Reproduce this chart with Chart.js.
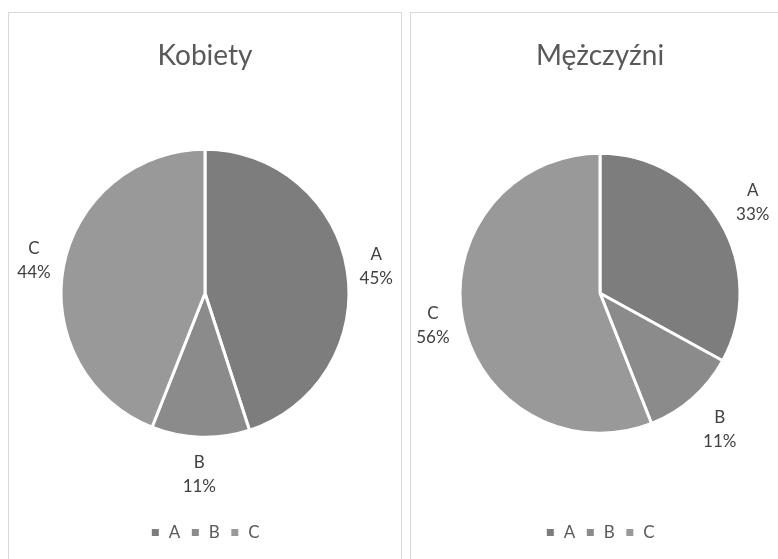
<!DOCTYPE html>
<html>
<head>
<meta charset="utf-8">
<script src="https://cdn.jsdelivr.net/npm/chart.js@4.4.0/dist/chart.umd.min.js"></script>
<style>
    html, body { margin: 0; padding: 0; background: #fff; overflow: hidden; }
    body { width: 778px; height: 559px; position: relative; }
    .panel { position: absolute; top: 12px; height: 560px; border: 1px solid #d9d9d9; box-sizing: border-box; background: #fff; }
    #leftPanel { left: 8px; width: 394px; }
    #rightPanel { left: 410px; width: 394px; }
    .panel canvas { position: absolute; left: 0; top: 0; }
</style>
</head>
<body>
<div class="panel" id="leftPanel"><canvas id="womenChart" width="392" height="547"></canvas></div>
<div class="panel" id="rightPanel"><canvas id="menChart" width="392" height="547"></canvas></div>
<script>
// Data
const categories = ['A', 'B', 'C'];
const womenValues = [45, 11, 44];
const menValues = [33, 11, 56];
const sliceColors = ['#7d7d7d', '#8b8b8b', '#999999'];

// Draws "A / 45%" labels just outside each slice (box-aware offset, like Excel)
const outsideLabels = {
    id: 'outsideLabels',
    afterDatasetsDraw(chart) {
        const ctx = chart.ctx;
        const meta = chart.getDatasetMeta(0);
        const values = chart.data.datasets[0].data;
        const total = values.reduce((a, b) => a + b, 0);
        const halfW = 17, halfH = 29, gap = 8;
        ctx.save();
        ctx.fillStyle = '#404040';
        ctx.font = '17px Lato';
        ctx.textAlign = 'center';
        ctx.textBaseline = 'middle';
        meta.data.forEach((arc, i) => {
            const p = arc.getProps(['x', 'y', 'startAngle', 'endAngle', 'outerRadius'], true);
            const mid = (p.startAngle + p.endAngle) / 2;
            const c = Math.cos(mid), s = Math.sin(mid);
            const dist = p.outerRadius + gap + halfW * Math.abs(c) + halfH * Math.abs(s);
            const lx = p.x + c * dist;
            const ly = p.y + s * dist;
            const pct = Math.round(values[i] / total * 100) + '%';
            ctx.fillText(chart.data.labels[i], lx, ly - 12);
            ctx.fillText(pct, lx, ly + 12);
        });
        ctx.restore();
    }
};

function makePie(canvasId, title, values, radius, padRight) {
    return new Chart(document.getElementById(canvasId), {
        type: 'pie',
        data: {
            labels: categories,
            datasets: [{
                data: values,
                backgroundColor: sliceColors,
                borderColor: '#ffffff',
                borderWidth: 3,
                radius: radius
            }]
        },
        options: {
            responsive: false,
            animation: false,
            layout: { padding: { top: 0, bottom: 9, left: 0, right: padRight } },
            plugins: {
                title: {
                    display: true,
                    text: title,
                    color: '#595959',
                    font: { family: 'Lato', size: 28, weight: 'normal' },
                    padding: { top: 26, bottom: 0 }
                },
                legend: {
                    position: 'bottom',
                    labels: {
                        color: '#595959',
                        font: { family: 'Lato', size: 17 },
                        usePointStyle: true,
                        pointStyle: 'rect',
                        boxWidth: 10,
                        boxHeight: 10,
                        padding: 10
                    }
                },
                tooltip: { enabled: false }
            }
        },
        plugins: [outsideLabels]
    });
}

makePie('womenChart', 'Kobiety', womenValues, 144, 0);
makePie('menChart', 'Mężczyźni', menValues, 140, 14);
</script>
</body>
</html>
